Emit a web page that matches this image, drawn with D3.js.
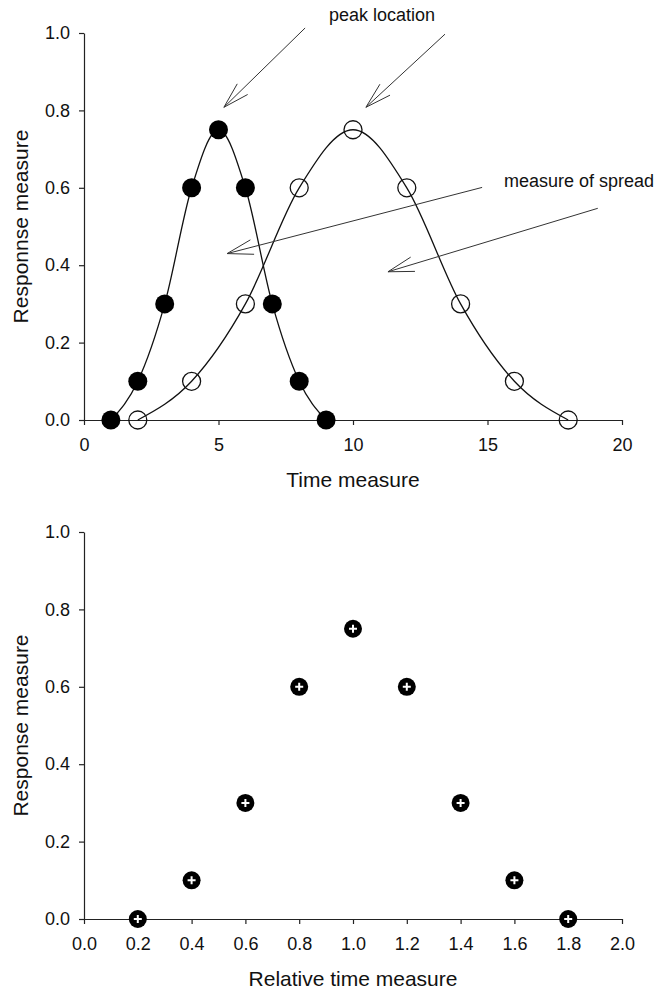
<!DOCTYPE html>
<html>
<head>
<meta charset="utf-8">
<script src="https://cdn.jsdelivr.net/npm/d3@7"></script>
<style>
  body { margin: 0; background: #fff; }
  svg { display: block; font-family: "Liberation Sans", Arial, sans-serif; }
  .axis path, .axis line { stroke: #222; stroke-width: 1.2px; }
  .axis text { font-size: 18px; fill: #111; }
</style>
</head>
<body>
<svg id="chart" width="655" height="989"></svg>
<script>
// top panel: two response curves
const fastTime = [1, 2, 3, 4, 5, 6, 7, 8, 9];
const fastResp = [0, 0.1, 0.3, 0.6, 0.75, 0.6, 0.3, 0.1, 0];
const slowTime = [2, 4, 6, 8, 10, 12, 14, 16, 18];
const slowResp = [0, 0.1, 0.3, 0.6, 0.75, 0.6, 0.3, 0.1, 0];

// bottom panel: relative time
const relTime = [0.2, 0.4, 0.6, 0.8, 1.0, 1.2, 1.4, 1.6, 1.8];
const relResp = [0, 0.1, 0.3, 0.6, 0.75, 0.6, 0.3, 0.1, 0];

const yTicks = [0, 0.2, 0.4, 0.6, 0.8, 1.0];
const topXTicks = [0, 5, 10, 15, 20];
const botXTicks = [0, 0.2, 0.4, 0.6, 0.8, 1.0, 1.2, 1.4, 1.6, 1.8, 2.0];

// annotation arrows in data units of the top panel: [fromX, fromY, toX, toY]
const arrows = [
    [8.22, 1.013, 5.2, 0.808],
    [13.42, 0.997, 10.48, 0.808],
    [14.8, 0.601, 5.32, 0.43],
    [19.1, 0.547, 11.3, 0.383]
];

const svg = d3.select("#chart");

const xTop = d3.scaleLinear().domain([0, 20]).range([84, 622]);
const yTop = d3.scaleLinear().domain([0, 1]).range([420, 33]);
const xBot = d3.scaleLinear().domain([0, 2]).range([84, 622]);
const yBot = d3.scaleLinear().domain([0, 1]).range([919, 532]);

function drawAxes(x, y, xTicks, xFmt, xTitle, yTitle, titleY) {
    svg.append("g")
        .attr("class", "axis")
        .attr("transform", `translate(0, ${y(0)})`)
        .call(d3.axisBottom(x).tickValues(xTicks).tickFormat(xFmt).tickSize(5).tickSizeOuter(0).tickPadding(13));

    svg.append("g")
        .attr("class", "axis")
        .attr("transform", `translate(${x.range()[0]}, 0)`)
        .call(d3.axisLeft(y).tickValues(yTicks).tickFormat(d3.format(".1f")).tickSize(5).tickSizeOuter(0).tickPadding(9));

    svg.append("text")
        .attr("x", (x.range()[0] + x.range()[1]) / 2)
        .attr("y", titleY)
        .attr("text-anchor", "middle")
        .attr("font-size", 21)
        .attr("fill", "#111")
        .text(xTitle);

    const cy = (y.range()[0] + y.range()[1]) / 2;
    svg.append("text")
        .attr("transform", `translate(28, ${cy}) rotate(-90)`)
        .attr("text-anchor", "middle")
        .attr("font-size", 21)
        .attr("fill", "#111")
        .text(yTitle);
}

drawAxes(xTop, yTop, topXTicks, d3.format("d"), "Time measure", "Responnse measure", 487);
drawAxes(xBot, yBot, botXTicks, d3.format(".1f"), "Relative time measure", "Response measure", 986);

// curves
const topLine = d3.line()
    .x(d => xTop(d[0]))
    .y(d => yTop(d[1]))
    .curve(d3.curveMonotoneX);

const fast = fastTime.map((t, i) => [t, fastResp[i]]);
const slow = slowTime.map((t, i) => [t, slowResp[i]]);

[fast, slow].forEach(s => {
    svg.append("path")
        .datum(s)
        .attr("fill", "none")
        .attr("stroke", "#111")
        .attr("stroke-width", 1.3)
        .attr("d", topLine);
});

svg.selectAll(".open")
    .data(slow)
    .enter().append("circle")
    .attr("cx", d => xTop(d[0]))
    .attr("cy", d => yTop(d[1]))
    .attr("r", 9)
    .attr("fill", "none")
    .attr("stroke", "#111")
    .attr("stroke-width", 1.3);

svg.selectAll(".filled")
    .data(fast)
    .enter().append("circle")
    .attr("cx", d => xTop(d[0]))
    .attr("cy", d => yTop(d[1]))
    .attr("r", 9.5)
    .attr("fill", "#000");

// arrows
const headLen = 27, headAng = 16 * Math.PI / 180;
arrows.forEach(a => {
    const x1 = xTop(a[0]), y1 = yTop(a[1]), x2 = xTop(a[2]), y2 = yTop(a[3]);
    const ang = Math.atan2(y1 - y2, x1 - x2);
    const p = d3.path();
    p.moveTo(x1, y1); p.lineTo(x2, y2);
    p.moveTo(x2 + headLen * Math.cos(ang - headAng), y2 + headLen * Math.sin(ang - headAng));
    p.lineTo(x2, y2);
    p.lineTo(x2 + headLen * Math.cos(ang + headAng), y2 + headLen * Math.sin(ang + headAng));
    svg.append("path")
        .attr("d", p.toString())
        .attr("fill", "none")
        .attr("stroke", "#333")
        .attr("stroke-width", 1);
});

svg.append("text")
    .attr("x", 382).attr("y", 21)
    .attr("text-anchor", "middle")
    .attr("font-size", 18)
    .attr("fill", "#111")
    .text("peak location");

svg.append("text")
    .attr("x", 504).attr("y", 187)
    .attr("font-size", 18)
    .attr("fill", "#111")
    .text("measure of spread");

// bottom markers with white cross
const rel = relTime.map((t, i) => [t, relResp[i]]);
const marks = svg.selectAll(".rel")
    .data(rel)
    .enter().append("g")
    .attr("transform", d => `translate(${xBot(d[0])}, ${yBot(d[1])})`);

marks.append("circle")
    .attr("r", 9)
    .attr("fill", "#000");

marks.append("path")
    .attr("d", "M-4,0H4M0,-4V4")
    .attr("stroke", "#fff")
    .attr("stroke-width", 2);
</script>
</body>
</html>
